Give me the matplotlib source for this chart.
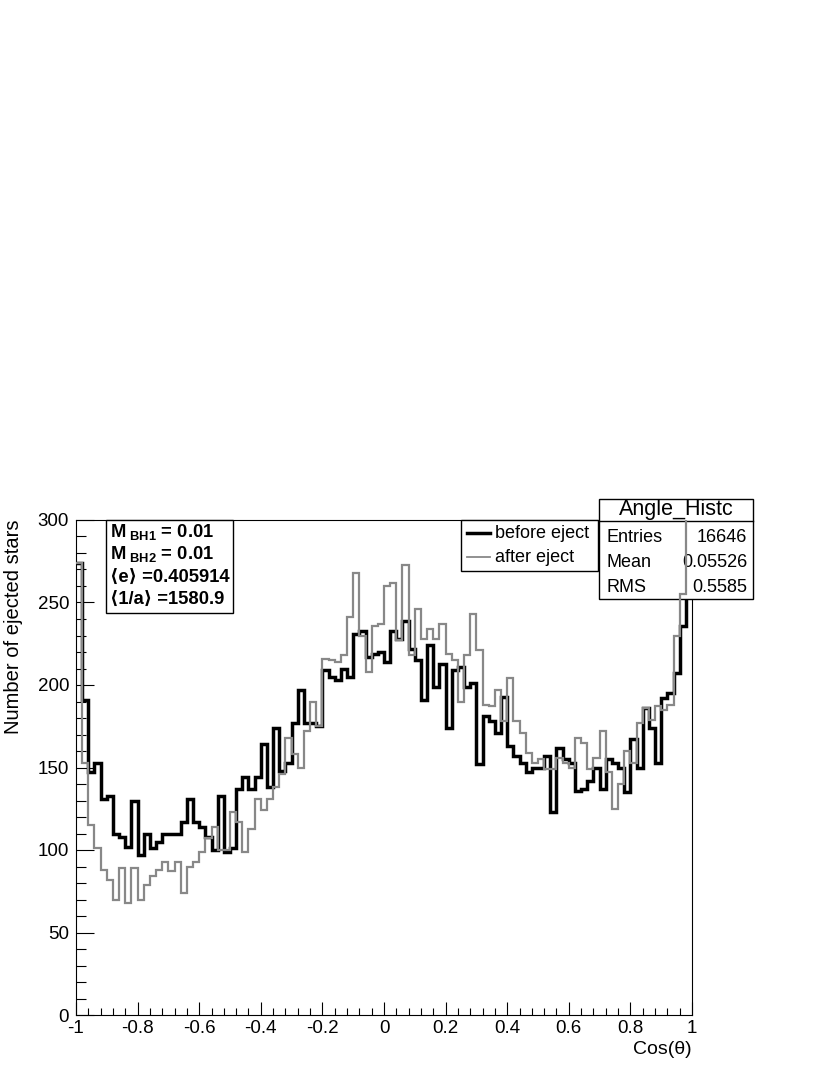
import numpy as np
import matplotlib
matplotlib.use('Agg')
import matplotlib.pyplot as plt
from matplotlib.patches import Rectangle
from matplotlib.lines import Line2D
from matplotlib.ticker import MultipleLocator, FuncFormatter

plt.rcParams['font.family'] = ['Liberation Sans', 'DejaVu Sans']
plt.rcParams['mathtext.fontset'] = 'custom'
plt.rcParams['mathtext.rm'] = 'Liberation Sans'
plt.rcParams['mathtext.bf'] = 'Liberation Sans:bold'

# histogram data: 100 bins of cos(theta) from -1 to 1
edges = np.linspace(-1, 1, 101)
before = [274, 191, 147, 153, 131, 133, 110, 108, 102, 130,
          97, 110, 101, 105, 110, 110, 110, 117, 131, 117,
          114, 108, 100, 133, 99, 101, 137, 144, 137, 144,
          164, 138, 174, 148, 153, 177, 197, 177, 177, 175,
          209, 205, 203, 210, 205, 231, 233, 217, 219, 220,
          214, 233, 228, 239, 222, 215, 191, 224, 199, 213,
          174, 209, 211, 199, 201, 152, 181, 178, 171, 193,
          163, 157, 153, 147, 150, 150, 157, 123, 162, 155,
          153, 136, 137, 142, 150, 137, 155, 153, 150, 135,
          167, 150, 186, 174, 153, 192, 195, 207, 236, 257]
after = [274, 153, 115, 101, 88, 82, 70, 89, 68, 89,
         70, 79, 84, 88, 93, 87, 93, 74, 90, 93,
         99, 107, 114, 100, 100, 123, 117, 99, 113, 131,
         124, 131, 138, 146, 168, 158, 150, 172, 190, 175,
         216, 215, 214, 218, 241, 268, 230, 208, 236, 237,
         260, 262, 227, 273, 218, 246, 228, 234, 228, 237,
         219, 215, 190, 218, 243, 221, 188, 187, 197, 178,
         204, 178, 171, 159, 153, 155, 149, 149, 156, 153,
         150, 168, 165, 149, 156, 172, 147, 125, 140, 160,
         153, 177, 186, 179, 187, 185, 188, 230, 255, 310]

box_lines = [r'M$_{\mathbf{\ BH1}}$ = 0.01', r'M$_{\mathbf{\ BH2}}$ = 0.01',
             '\u27e8e\u27e9 =0.405914', '\u27e81/a\u27e9 =1580.9']
legend_labels = ['before eject', 'after eject']
stat_names = ['Entries', 'Mean', 'RMS']
stat_values = ['16646', '0.05526', '0.5585']

W, H = 830, 1075
def fx(x): return x / W
def fy(y): return 1 - y / H

fig = plt.figure(figsize=(W / 100, H / 100), dpi=100)
ax = fig.add_axes([fx(76), fy(1015), 616 / W, 495 / H])

ax.stairs(before, edges, color='black', lw=2.5, baseline=None, zorder=2)
ax.stairs(after, edges, color='#888888', lw=1.6, baseline=None, zorder=4)

ax.xaxis.set_major_locator(MultipleLocator(0.2))
ax.xaxis.set_minor_locator(MultipleLocator(0.04))
ax.yaxis.set_major_locator(MultipleLocator(50))
ax.yaxis.set_minor_locator(MultipleLocator(10))
ax.xaxis.set_major_formatter(FuncFormatter(lambda v, p: '0' if abs(v) < 1e-9 else '%g' % round(v, 2)))
ax.tick_params(which='both', direction='in', top=False, right=False, labelsize=13.5, width=0.8)
ax.xaxis.set_tick_params(which='major', length=9.5, pad=3.5)
ax.xaxis.set_tick_params(which='minor', length=4.7)
ax.yaxis.set_tick_params(which='major', length=13, pad=5)
ax.yaxis.set_tick_params(which='minor', length=7)
for s in ax.spines.values():
    s.set_linewidth(0.8)

fig.text(fx(14), fy(520), 'Number of ejected stars', rotation=90, ha='center', va='top', fontsize=14.5)
fig.text(fx(692), fy(1050), 'Cos(\u03b8)', ha='right', va='center', fontsize=14)

# parameter box
ax.add_patch(Rectangle((fx(106), fy(613)), 127 / W, 93 / H, transform=fig.transFigure,
                       facecolor='white', edgecolor='black', lw=1, clip_on=False, zorder=5))
for i, s in enumerate(box_lines):
    ax.text(fx(110), fy(532 + 22.5 * i), s, transform=fig.transFigure, ha='left', va='center',
            fontsize=13.2, fontweight='bold', zorder=6, clip_on=False)

# legend
ax.add_patch(Rectangle((fx(461), fy(571)), 137 / W, 51 / H, transform=fig.transFigure,
                       facecolor='white', edgecolor='black', lw=1, clip_on=False, zorder=5))
for i, (lab, c, w) in enumerate(zip(legend_labels, ['black', '#888888'], [2.5, 1.3])):
    yy = 533 + 24 * i
    ax.add_line(Line2D([fx(467), fx(490)], [fy(yy), fy(yy)], transform=fig.transFigure,
                       color=c, lw=w, clip_on=False, zorder=6))
    ax.text(fx(495), fy(yy), lab, transform=fig.transFigure, ha='left', va='center',
            fontsize=13, zorder=6, clip_on=False)

# stats box (under the gray line, over the black one)
ax.add_patch(Rectangle((fx(599), fy(599)), 154 / W, 100 / H, transform=fig.transFigure,
                       facecolor='white', edgecolor='black', lw=1, clip_on=False, zorder=3))
ax.add_line(Line2D([fx(599), fx(753)], [fy(521), fy(521)], transform=fig.transFigure,
                   color='black', lw=1, clip_on=False, zorder=3.1))
ax.text(fx(676), fy(510), 'Angle_Histc', transform=fig.transFigure, ha='center', va='center',
        fontsize=15.5, zorder=3.2, clip_on=False)
for i, (n, v) in enumerate(zip(stat_names, stat_values)):
    yy = 537 + 25.5 * i
    ax.text(fx(606), fy(yy), n, transform=fig.transFigure, ha='left', va='center',
            fontsize=13, zorder=3.2, clip_on=False)
    ax.text(fx(747), fy(yy), v, transform=fig.transFigure, ha='right', va='center',
            fontsize=13, zorder=3.2, clip_on=False)

ax.set_xlim(-1, 1)
ax.set_ylim(0, 300)

fig.savefig('out.png', dpi=100)
